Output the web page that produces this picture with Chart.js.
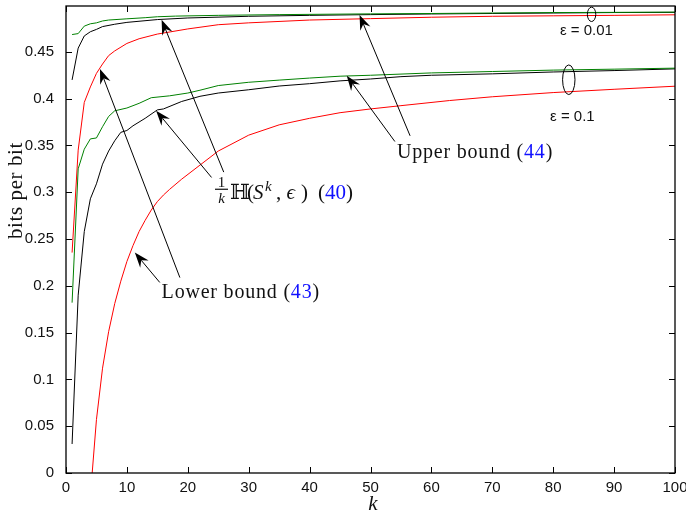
<!DOCTYPE html>
<html>
<head>
<meta charset="utf-8">
<script src="https://cdn.jsdelivr.net/npm/chart.js@4.4.0/dist/chart.umd.min.js"></script>
<style>
  html, body { margin: 0; padding: 0; background: #fff; }
  #contenedor { width: 686px; height: 510px; }
</style>
</head>
<body>
<div id="contenedor"><canvas id="grafico" width="686" height="510"></canvas></div>
<script>
// Datos (k, bits por bit)
// epsilon = 0.01
const kVerde001 = [1, 2, 3, 4, 5, 6, 7, 10, 13, 15, 18, 25, 35, 50, 60, 70, 80, 90, 100];
const verde001 = [0.4685, 0.4695, 0.4775, 0.480, 0.481, 0.483, 0.484, 0.4853, 0.4865, 0.4875, 0.4882, 0.489, 0.4898, 0.4906, 0.491, 0.4915, 0.492, 0.4922, 0.4925];

const kNegro001 = [1, 2, 3, 4, 5, 6, 8, 10, 15, 20, 30, 40, 50, 60, 70, 80, 90, 100];
const negro001 = [0.420, 0.454, 0.467, 0.4715, 0.474, 0.477, 0.4795, 0.4815, 0.4845, 0.4862, 0.488, 0.489, 0.4898, 0.4905, 0.491, 0.4915, 0.492, 0.4922];

const kRojo001 = [1, 2, 3, 4, 5, 6, 7, 8, 10, 12, 15, 20, 25, 30, 40, 50, 60, 70, 80, 90, 100];
const rojo001 = [0.2355, 0.345, 0.396, 0.4125, 0.427, 0.437, 0.446, 0.451, 0.459, 0.464, 0.469, 0.4745, 0.479, 0.481, 0.484, 0.4855, 0.487, 0.488, 0.4885, 0.489, 0.4896];

// epsilon = 0.1
const kVerde01 = [1, 2, 3, 4, 5, 6, 7, 8, 10, 12, 14, 17, 20, 22, 25, 30, 35, 40, 45, 50, 60, 70, 80, 90, 100];
const verde01 = [0.182, 0.325, 0.346, 0.357, 0.358, 0.370, 0.381, 0.387, 0.390, 0.395, 0.401, 0.403, 0.406, 0.409, 0.414, 0.4175, 0.4198, 0.422, 0.424, 0.425, 0.4275, 0.429, 0.4305, 0.4315, 0.4326];

const kNegro01 = [1, 2, 3, 4, 5, 6, 7, 8, 9, 10, 11, 13, 15, 16, 19, 22, 25, 30, 35, 40, 45, 50, 55, 60, 70, 80, 90, 100];
const negro01 = [0.031, 0.190, 0.258, 0.293, 0.309, 0.330, 0.344, 0.355, 0.364, 0.366, 0.371, 0.379, 0.388, 0.389, 0.397, 0.4025, 0.406, 0.4095, 0.4135, 0.416, 0.419, 0.421, 0.4235, 0.425, 0.4265, 0.4285, 0.430, 0.4318];

const kRojo01 = [4.3, 5, 6, 7, 8, 9, 10, 11, 12, 13, 14, 15, 16, 17, 19, 22, 25, 30, 35, 40, 45, 50, 55, 63, 70, 80, 90, 100];
const rojo01 = [0, 0.057, 0.112, 0.151, 0.181, 0.205, 0.226, 0.243, 0.258, 0.270, 0.281, 0.290, 0.297, 0.303, 0.314, 0.329, 0.344, 0.361, 0.372, 0.379, 0.385, 0.389, 0.3925, 0.398, 0.402, 0.4065, 0.410, 0.4133];

const ticksX = [0, 10, 20, 30, 40, 50, 60, 70, 80, 90, 100];
const ticksY = [0, 0.05, 0.1, 0.15, 0.2, 0.25, 0.3, 0.35, 0.4, 0.45];

// Anotaciones (en coordenadas de datos: [k, valor])
const flechas = [
  { desde: [56.5, 0.3603], hasta: [48.2, 0.4895] },
  { desde: [54.0, 0.3542], hasta: [46.1, 0.4246] },
  { desde: [25.9, 0.3215], hasta: [15.7, 0.4843] },
  { desde: [23.9, 0.3158], hasta: [14.8, 0.3872] },
  { desde: [18.7, 0.2088], hasta: [5.58, 0.4318] },
  { desde: [15.4, 0.2036], hasta: [11.3, 0.2355] }
];

const serif = "'Liberation Serif', 'Times New Roman', serif";
const sans = "'Liberation Sans', Arial, sans-serif";
const azul = '#1010ff';
const tinta = '#111';

function serie(ks, vs, color) {
  return {
    data: ks.map((k, i) => ({ x: k, y: vs[i] })),
    borderColor: color,
    borderWidth: 1,
    pointRadius: 0,
    fill: false,
    tension: 0
  };
}

function flecha(ctx, x0, y0, x1, y1) {
  const ang = Math.atan2(y1 - y0, x1 - x0);
  const c = Math.cos(ang), s = Math.sin(ang);
  const L = 15, W = 5.5, M = 10;
  ctx.beginPath();
  ctx.moveTo(x0, y0);
  ctx.lineTo(x1 - M * c, y1 - M * s);
  ctx.stroke();
  ctx.beginPath();
  ctx.moveTo(x1, y1);
  ctx.lineTo(x1 - L * c + W * s, y1 - L * s - W * c);
  ctx.lineTo(x1 - M * c, y1 - M * s);
  ctx.lineTo(x1 - L * c - W * s, y1 - L * s + W * c);
  ctx.closePath();
  ctx.fill();
}

// texto en varias partes con colores distintos
function textoPartes(ctx, partes, x0, y0) {
  let xx = x0;
  partes.forEach(([t, col]) => {
    ctx.fillStyle = col;
    ctx.fillText(t, xx, y0);
    xx += ctx.measureText(t).width;
  });
}

const marcoEjes = {
  id: 'marcoEjes',
  afterDraw(chart) {
    const { ctx, chartArea: a, scales: { x, y } } = chart;
    ctx.save();
    ctx.strokeStyle = '#000';
    ctx.lineWidth = 1;
    ctx.beginPath();
    ticksX.forEach(t => {
      const px = Math.round(x.getPixelForValue(t)) + 0.5;
      ctx.moveTo(px, a.bottom); ctx.lineTo(px, a.bottom - 6);
      ctx.moveTo(px, a.top); ctx.lineTo(px, a.top + 6);
    });
    ticksY.forEach(t => {
      const py = Math.round(y.getPixelForValue(t)) + 0.5;
      ctx.moveTo(a.left, py); ctx.lineTo(a.left + 6, py);
      ctx.moveTo(a.right, py); ctx.lineTo(a.right - 6, py);
    });
    ctx.stroke();
    ctx.lineWidth = 1.3;
    ctx.strokeRect(a.left, a.top, a.right - a.left, a.bottom - a.top);
    ctx.restore();
  }
};

const anotaciones = {
  id: 'anotaciones',
  afterDraw(chart) {
    const { ctx, chartArea: a, scales: { x, y } } = chart;
    ctx.save();
    ctx.strokeStyle = '#000';
    ctx.fillStyle = '#000';
    ctx.lineWidth = 1;
    flechas.forEach(f => {
      flecha(ctx, x.getPixelForValue(f.desde[0]), y.getPixelForValue(f.desde[1]),
        x.getPixelForValue(f.hasta[0]), y.getPixelForValue(f.hasta[1]));
    });

    // elipses que agrupan las curvas
    ctx.beginPath();
    ctx.ellipse(x.getPixelForValue(86.3), y.getPixelForValue(0.4901), 4.2, 7.2, 0, 0, Math.PI * 2);
    ctx.stroke();
    ctx.beginPath();
    ctx.ellipse(x.getPixelForValue(82.56), y.getPixelForValue(0.4202), 6.2, 14.8, 0, 0, Math.PI * 2);
    ctx.stroke();

    ctx.font = '15px ' + sans;
    ctx.textBaseline = 'middle';
    ctx.fillStyle = tinta;
    ctx.fillText('ε = 0.01', x.getPixelForValue(81.1), y.getPixelForValue(0.4728));
    ctx.fillText('ε = 0.1', x.getPixelForValue(79.48), y.getPixelForValue(0.3801));

    // etiquetas de las cotas
    ctx.textBaseline = 'alphabetic';
    ctx.font = '20px ' + serif;
    ctx.letterSpacing = '0.8px';
    textoPartes(ctx, [['Upper bound (', tinta], ['44', azul], [')', tinta]],
      x.getPixelForValue(54.35), y.getPixelForValue(0.3362));
    textoPartes(ctx, [['Lower bound (', tinta], ['43', azul], [')', tinta]],
      x.getPixelForValue(15.7), y.getPixelForValue(0.1874));
    ctx.letterSpacing = '0px';

    // (1/k) H(S^k, eps) (40)
    const hx = x.getPixelForValue(26.93);
    const hy = y.getPixelForValue(0.2926);
    const fx = hx - 8.5;
    ctx.fillStyle = tinta;
    ctx.textAlign = 'center';
    ctx.font = '15px ' + serif;
    ctx.fillText('1', fx, hy - 12);
    ctx.font = 'italic 15px ' + serif;
    ctx.fillText('k', fx, hy + 3.5);
    ctx.fillRect(fx - 6.5, hy - 10.5, 13, 1.2);
    ctx.textAlign = 'left';
    const piezas = [
      ['ℍ', "21px 'DejaVu Serif', serif", 0, 0, tinta],
      ['(', '21px ' + serif, 17, 0, tinta],
      ['S', 'italic 21px ' + serif, 23, 0, tinta],
      ['k', 'italic 15px ' + serif, 35, -8, tinta],
      [',', '21px ' + serif, 46, 0, tinta],
      ['ϵ', 'italic 21px ' + serif, 56.5, 0, tinta],
      [')', '21px ' + serif, 71, 0, tinta],
      ['(', '21px ' + serif, 88, 0, tinta],
      ['40', '21px ' + serif, 95, 0, azul],
      [')', '21px ' + serif, 116, 0, tinta]
    ];
    piezas.forEach(([t, f, dx, dy, col]) => {
      ctx.font = f;
      ctx.fillStyle = col;
      ctx.fillText(t, hx + dx, hy + dy);
    });

    // titulos de los ejes
    ctx.fillStyle = tinta;
    ctx.font = '21px ' + serif;
    ctx.save();
    ctx.translate(16, y.getPixelForValue(0.25));
    ctx.rotate(-Math.PI / 2);
    ctx.textBaseline = 'middle';
    ctx.letterSpacing = '0.6px';
    ctx.fillText('bits per bit', 0, 0);
    ctx.restore();
    ctx.font = 'italic 21px ' + serif;
    ctx.textAlign = 'center';
    ctx.fillText('k', x.getPixelForValue(50.4), a.bottom + 37);
    ctx.restore();
  }
};

document.addEventListener("DOMContentLoaded", function () {
  Chart.defaults.font.family = sans;
  Chart.defaults.font.size = 15;
  Chart.defaults.color = tinta;

  const ctx = document.getElementById('grafico');
  new Chart(ctx, {
    type: 'line',
    data: {
      datasets: [
        serie(kVerde001, verde001, '#008000'),
        serie(kVerde01, verde01, '#008000'),
        serie(kNegro001, negro001, '#000000'),
        serie(kNegro01, negro01, '#000000'),
        serie(kRojo001, rojo001, '#ff0000'),
        serie(kRojo01, rojo01, '#ff0000')
      ]
    },
    options: {
      responsive: false,
      animation: false,
      devicePixelRatio: 1,
      layout: { padding: { top: 6, right: 11, left: 0, bottom: 0 } },
      plugins: { legend: { display: false }, tooltip: { enabled: false } },
      scales: {
        x: {
          type: 'linear',
          min: 0,
          max: 100,
          grid: { display: false },
          border: { display: false },
          afterBuildTicks: s => { s.ticks = ticksX.map(v => ({ value: v })); },
          ticks: { padding: -2, autoSkip: false, maxRotation: 0 },
          afterFit: s => { s.height = 37; s.paddingLeft = 0; s.paddingRight = 0; }
        },
        y: {
          type: 'linear',
          min: 0,
          max: 0.499,
          grid: { display: false },
          border: { display: false },
          afterBuildTicks: s => { s.ticks = ticksY.map(v => ({ value: v })); },
          ticks: { padding: 4, callback: v => String(Number(v.toFixed(2))) },
          afterFit: s => { s.width = 66; s.paddingTop = 0; s.paddingBottom = 0; }
        }
      }
    },
    plugins: [marcoEjes, anotaciones]
  });
});
</script>
</body>
</html>
